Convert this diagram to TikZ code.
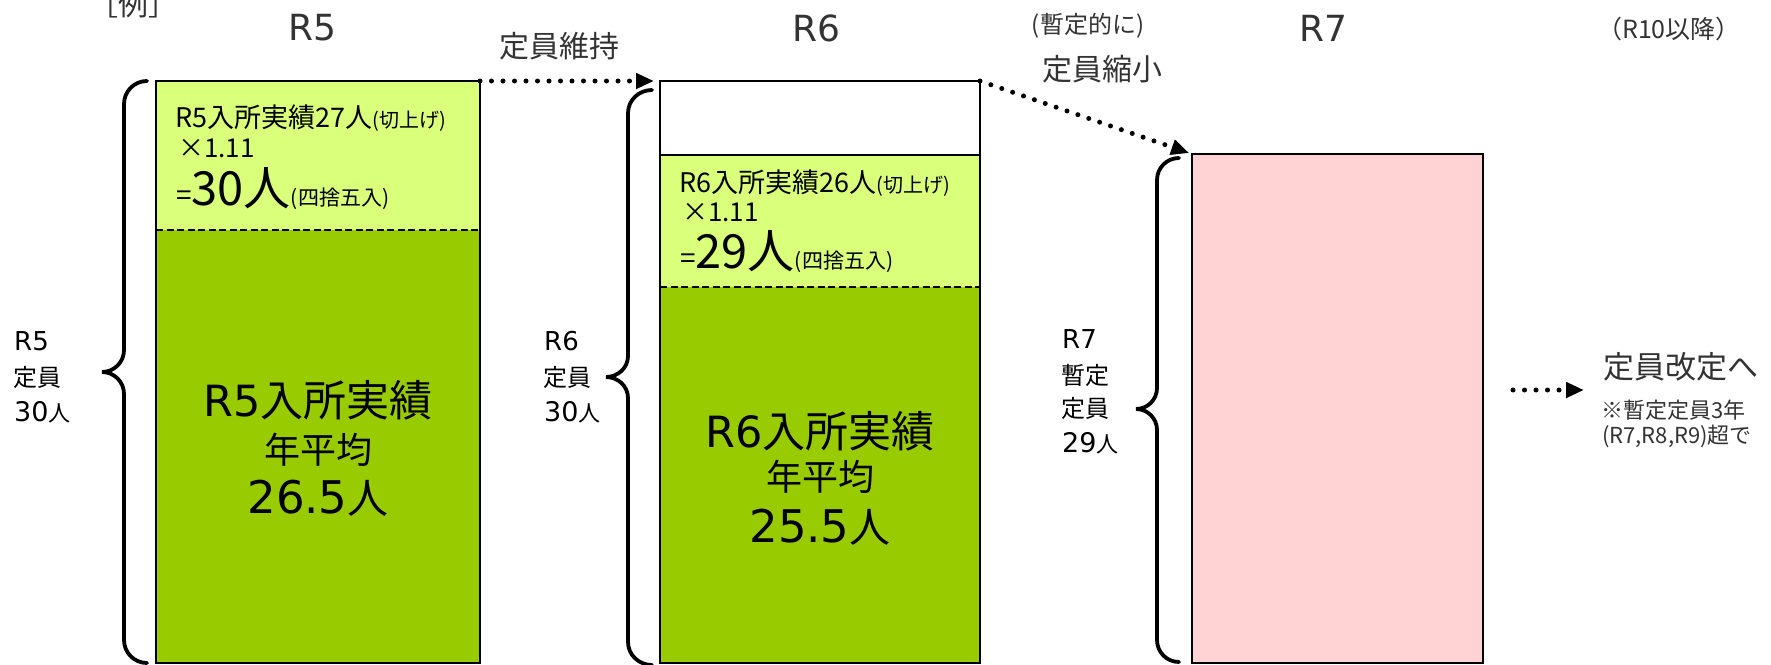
\documentclass[tikz,border=0pt]{standalone}
\usepackage{fontspec}
\setmainfont{Noto Sans CJK JP}
\newfontfamily\dv{DejaVu Sans}
\usetikzlibrary{arrows.meta}
\definecolor{lightg}{HTML}{DAFF7A}
\definecolor{darkg}{HTML}{99CC00}
\definecolor{pinkb}{HTML}{FFD3D3}
\definecolor{hdrgray}{HTML}{333333}
\newcommand\fs[1]{\fontsize{#1}{#1}\selectfont}
\tikzset{
  boxst/.style={draw=black, line width=2.5pt, inner sep=0pt, outer sep=0pt, anchor=north west},
  dashln/.style={line width=2pt, dash pattern=on 7pt off 3.5pt},
  sepln/.style={line width=2.5pt},
  bracest/.style={line width=3.8pt, line cap=round},
  dotarrow/.style={line width=5pt, line cap=round, dash pattern=on 0pt off 11.5pt,
    -{Triangle[length=18pt,width=15pt]}},
  hdr/.style={text=hdrgray, inner sep=0pt},
  lbl/.style={text=black, inner sep=0pt, anchor=west},
  txt/.style={text=black, inner sep=0pt, anchor=base west},
  ctr/.style={text=black, inner sep=0pt},
}
\begin{document}
\begin{tikzpicture}[x=1pt,y=-1pt]
\useasboundingbox (0,0) rectangle (1771,664);
\fill[white] (0,0) rectangle (1771,664);

% ---------- boxes ----------
\fill[lightg] (156,81) rectangle (480,230);
\fill[darkg] (156,230) rectangle (480,663);
\node[boxst, minimum width=324pt, minimum height=582pt] (r5) at (156,81) {};
\draw[dashln] (156,230) -- (480,230);

\fill[white] (660,81) rectangle (980,155);
\fill[lightg] (660,155) rectangle (980,287);
\fill[darkg] (660,287) rectangle (980,663);
\node[boxst, minimum width=320pt, minimum height=582pt] (r6) at (660,81) {};
\draw[sepln] (660,155) -- (980,155);
\draw[dashln] (660,287) -- (980,287);

\fill[pinkb] (1192,154) rectangle (1483,663);
\node[boxst, minimum width=291pt, minimum height=509pt] (r7) at (1192,154) {};

% ---------- braces ----------
\draw[bracest] (147,81) to[out=180,in=90] (124,104) -- (124,350)
  to[out=-90,in=0] (102,372) to[out=0,in=90] (124,394) -- (124,640)
  to[out=-90,in=180] (147,663);
\draw[bracest] (652,90) to[out=180,in=90] (628,113) -- (628,356)
  to[out=-90,in=0] (606,377) to[out=0,in=90] (628,398) -- (628,642)
  to[out=-90,in=180] (652,665);
\draw[bracest] (1179,158) to[out=180,in=90] (1157,180) -- (1157,388)
  to[out=-90,in=0] (1136,409) to[out=0,in=90] (1157,430) -- (1157,640)
  to[out=-90,in=180] (1179,662);

% ---------- arrows ----------
\draw[dotarrow, shorten >=6pt] (r5.north east) -- (r6.north west);
\draw[dotarrow, shorten >=3pt] (r6.north east) -- (r7.north west);
\coordinate (a3s) at (1513,390);
\coordinate (a3e) at (1584,390);
\draw[dotarrow] (a3s) -- (a3e);

% ---------- headings ----------
\node[hdr, font=\fs{30}] (ex) at (133,4) {［例］};
\node[hdr, font=\dv\fs{36}] (h5) at (312,28) {R5};
\node[hdr, font=\dv\fs{36}] (h6) at (816,28) {R6};
\node[hdr, font=\dv\fs{36}] (h7) at (1323,28) {R7};
\node[hdr, font=\fs{25}] (h10) at (1669,29) {（R10以降）};
\node[hdr, font=\fs{30}] (keep) at (559,46) {定員維持};
\node[hdr, font=\fs{24}] (zan) at (1088,26) {(暫定的に)};
\node[hdr, font=\fs{30}] (shuku) at (1102,69) {定員縮小};

% ---------- left labels ----------
\node[lbl, font=\dv\fs{26}] (l5a) at (14,341) {R5};
\node[lbl, font=\fs{24}] (l5b) at (13,377) {定員};
\node[lbl] (l5c) at (14,412) {{\dv\fs{27}30}{\fs{22}人}};

\node[lbl, font=\dv\fs{26}] (l6a) at (544,341) {R6};
\node[lbl, font=\fs{24}] (l6b) at (543,377) {定員};
\node[lbl] (l6c) at (544,412) {{\dv\fs{27}30}{\fs{22}人}};

\node[lbl, font=\dv\fs{26}] (l7a) at (1062,339) {R7};
\node[lbl, font=\fs{24}] (l7b) at (1061,375) {暫定};
\node[lbl, font=\fs{24}] (l7c) at (1061,408) {定員};
\node[lbl] (l7d) at (1062,443) {{\dv\fs{27}29}{\fs{22}人}};

% ---------- box texts ----------
\node[txt] (t5a) at (175,127) {{\fs{27}R5入所実績27人}{\fs{20}(切上げ)}};
\node[txt, font=\fs{26}] (t5b) at (178,157) {×1.11};
\node[txt] (t5c) at (176,205) {{\fs{28}=}{\fs{47}30人}{\fs{21}(四捨五入)}};

\node[txt] (t6a) at (679,192) {{\fs{27}R6入所実績26人}{\fs{20}(切上げ)}};
\node[txt, font=\fs{26}] (t6b) at (682,221) {×1.11};
\node[txt] (t6c) at (680,268) {{\fs{28}=}{\fs{47}29人}{\fs{21}(四捨五入)}};

\node[ctr] (d5a) at (318,400) {{\dv\fs{43}R5}{\fs{43}入所実績}};
\node[ctr, font=\fs{36}] (d5b) at (318,450) {年平均};
\node[ctr] (d5c) at (318,498) {{\dv\fs{45}26.5}{\fs{41}人}};

\node[ctr] (d6a) at (820,431) {{\dv\fs{43}R6}{\fs{43}入所実績}};
\node[ctr, font=\fs{36}] (d6b) at (820,477) {年平均};
\node[ctr] (d6c) at (820,527) {{\dv\fs{45}25.5}{\fs{41}人}};

% ---------- right text ----------
\node[hdr, font=\fs{31}] (kaitei) at (1681,367) {定員改定へ};
\node[hdr, font=\fs{22}, anchor=east] (note1) at (1746,410) {※暫定定員3年};
\node[hdr, font=\fs{22}, anchor=east] (note2) at (1752,436) {(R7,R8,R9)超で};
\end{tikzpicture}
\end{document}
